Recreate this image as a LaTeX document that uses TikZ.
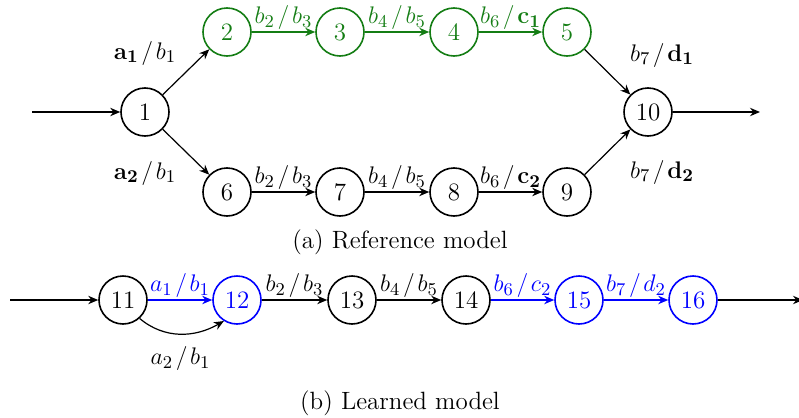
\documentclass[tikz,border=0pt]{standalone}
\usetikzlibrary{arrows.meta}
\definecolor{pathgreen}{RGB}{20,125,20}
\definecolor{pathblue}{RGB}{0,0,255}
\newcommand{\tsep}{\mkern2mu/\mkern2mu}
\newcommand{\figfont}{\fontsize{12.5}{15}\selectfont}
\tikzset{
  every node/.style={font=\figfont},
  state/.style={circle,draw,thick,minimum size=24pt,inner sep=0pt},
  tr/.style={-{Stealth[length=5pt,width=4.2pt]},semithick},
  gr/.style={draw=pathgreen,text=pathgreen},
  bl/.style={draw=pathblue,text=pathblue},
  lbl/.style={inner sep=1pt}
}
\begin{document}
\begin{tikzpicture}[x=0.5pt,y=-0.5pt]
\useasboundingbox (0,0) rectangle (799,418);
% (a) reference model
\node[state] (n1) at (145,112) {1};
\node[state,gr] (n2) at (227,32) {2};
\node[state,gr] (n3) at (340,32) {3};
\node[state,gr] (n4) at (454,32) {4};
\node[state,gr] (n5) at (567,32) {5};
\node[state] (n6) at (227,192) {6};
\node[state] (n7) at (340,192) {7};
\node[state] (n8) at (454,192) {8};
\node[state] (n9) at (567,192) {9};
\node[state] (n10) at (648,112) {10};
\coordinate (inA) at (32,112);
\coordinate (outA) at (760,112);
\draw[tr] (inA) -- (n1);
\draw[tr] (n10) -- (outA);
\draw[tr] (n1) -- (n2);
\draw[tr] (n1) -- (n6);
\draw[tr,pathgreen] (n2) -- node[lbl,above,text=pathgreen] {$b_2\tsep b_3$} (n3);
\draw[tr,pathgreen] (n3) -- node[lbl,above,text=pathgreen] {$b_4\tsep b_5$} (n4);
\draw[tr,pathgreen] (n4) -- node[lbl,above,text=pathgreen] {$b_6\tsep\mathbf{c_1}$} (n5);
\draw[tr] (n6) -- node[lbl,above] {$b_2\tsep b_3$} (n7);
\draw[tr] (n7) -- node[lbl,above] {$b_4\tsep b_5$} (n8);
\draw[tr] (n8) -- node[lbl,above] {$b_6\tsep\mathbf{c_2}$} (n9);
\draw[tr] (n5) -- (n10);
\draw[tr] (n9) -- (n10);
\node[lbl] (l12) at (145,53) {$\mathbf{a_1}\tsep b_1$};
\node[lbl] (l16) at (145,173) {$\mathbf{a_2}\tsep b_1$};
\node[lbl] (l510) at (662,55) {$b_7\tsep\mathbf{d_1}$};
\node[lbl] (l910) at (662,172) {$b_7\tsep\mathbf{d_2}$};
\node (capA) at (400,242) {(a) Reference model};
% (b) learned model
\node[state] (m11) at (123,300) {11};
\node[state,bl] (m12) at (237,300) {12};
\node[state] (m13) at (352,300) {13};
\node[state] (m14) at (466,300) {14};
\node[state,bl] (m15) at (579,300) {15};
\node[state,bl] (m16) at (693,300) {16};
\coordinate (inB) at (10,300);
\coordinate (outB) at (803,300);
\draw[tr] (inB) -- (m11);
\draw[tr] (m16) -- (outB);
\draw[tr,pathblue] (m11) -- node[lbl,above,text=pathblue] {$a_1\tsep b_1$} (m12);
\draw[tr] (m11.-48) to[out=-40,in=-150] node[lbl,below=5pt] {$a_2\tsep b_1$} (m12.-122);
\draw[tr] (m12) -- node[lbl,above] {$b_2\tsep b_3$} (m13);
\draw[tr] (m13) -- node[lbl,above] {$b_4\tsep b_5$} (m14);
\draw[tr,pathblue] (m14) -- node[lbl,above,text=pathblue] {$b_6\tsep c_2$} (m15);
\draw[tr,pathblue] (m15) -- node[lbl,above,text=pathblue] {$b_7\tsep d_2$} (m16);
\node (capB) at (400,403) {(b) Learned model};
\end{tikzpicture}
\end{document}
